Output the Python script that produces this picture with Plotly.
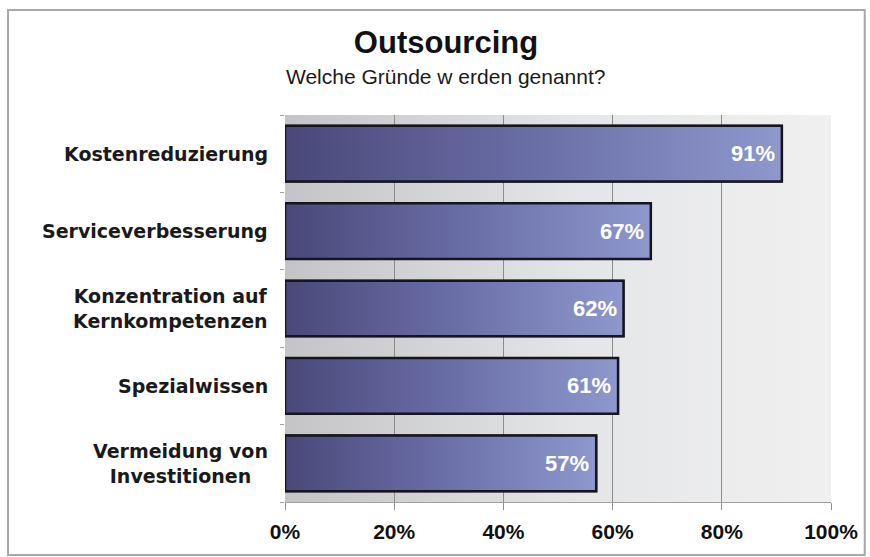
import base64
import plotly.graph_objects as go

# ---- data ----
categories = ["Kostenreduzierung", "Serviceverbesserung",
              "Konzentration auf<br>Kernkompetenzen", "Spezialwissen",
              "Vermeidung von<br>Investitionen"]
values = [91, 67, 62, 61, 57]
x_ticks = [0, 20, 40, 60, 80, 100]
x_tick_labels = ["0%", "20%", "40%", "60%", "80%", "100%"]
grid_vals = [20, 40, 60, 80]
title_text = "Outsourcing"
subtitle_text = "Welche Gründe w erden genannt?"

# ---- layout constants ----
W, H = 870, 557
ML, MR, MT, MB = 285, 35, 115, 55
BAR_W = 0.72
idx = list(range(len(categories)))

bar_scale = [[0.0, "#4a4879"], [0.5, "#6a6ea7"], [1.0, "#8e98cd"]]

pw = W - ML - MR
ph = H - MT - MB
def px_to_paper_x(px):
    return (px - ML) / pw
def px_to_paper_y(py):
    return (H - MB - py) / ph

fig = go.Figure()

# real bar trace (underneath)
fig.add_trace(go.Bar(
    x=values, y=idx, orientation="h", width=BAR_W,
    marker=dict(color="#6a6ea7", line=dict(color="#15151f", width=2)),
    hoverinfo="skip", showlegend=False,
))

# gradient overlay for each bar, built from the data values
h = BAR_W / 2
for i, v in zip(idx, values):
    fig.add_trace(go.Scatter(
        x=[0, v, v, 0, 0], y=[i - h, i - h, i + h, i + h, i - h],
        mode="lines", fill="toself",
        fillgradient=dict(type="horizontal", colorscale=bar_scale),
        line=dict(color="#15151f", width=2.5),
        hoverinfo="skip", showlegend=False,
    ))

annotations = []
# value labels inside the bar end
for i, v in zip(idx, values):
    annotations.append(dict(
        x=v, y=i, xref="x", yref="y", text=f"{v}%", showarrow=False,
        xanchor="right", yanchor="middle", xshift=-5,
        font=dict(family="Liberation Sans, Arial", size=22, color="white", weight="bold"),
    ))

# category labels (centered lines, right anchored)
for i, c in zip(idx, categories):
    annotations.append(dict(
        x=0, y=i, xref="x", yref="y", text=c, showarrow=False,
        xanchor="right", yanchor="middle", xshift=-15, align="center",
        font=dict(family="DejaVu Sans", size=19, color="#1a1a1a", weight="bold"),
    ))

# subtitle
annotations.append(dict(
    x=px_to_paper_x(447), y=px_to_paper_y(76), xref="paper", yref="paper",
    text=subtitle_text, showarrow=False, xanchor="center", yanchor="middle",
    font=dict(family="Liberation Sans, Arial", size=21, color="#1a1a1a"),
))

# background gradient image for plot area
svg = ('<svg xmlns="http://www.w3.org/2000/svg" width="200" height="100" preserveAspectRatio="none" viewBox="0 0 200 100">'
       '<defs><linearGradient id="g" x1="0" y1="0" x2="1" y2="0">'
       '<stop offset="0" stop-color="#c4c4c6"/>'
       '<stop offset="0.55" stop-color="#e5e6e8"/>'
       '<stop offset="1" stop-color="#f0f0f0"/>'
       '</linearGradient></defs>'
       '<rect x="0" y="0" width="200" height="100" fill="url(#g)"/></svg>')
svg_uri = "data:image/svg+xml;base64," + base64.b64encode(svg.encode()).decode()

fig.update_layout(
    width=W, height=H,
    margin=dict(l=ML, r=MR, t=MT, b=MB),
    paper_bgcolor="white",
    plot_bgcolor="rgba(0,0,0,0)",
    showlegend=False,
    title=dict(
        text=title_text, x=446 / W, xanchor="center", xref="container",
        y=1 - 42 / H, yanchor="middle", yref="container",
        font=dict(family="Liberation Sans, Arial", size=31, color="#111111", weight="bold"),
    ),
    annotations=annotations,
    images=[dict(
        source=svg_uri, xref="x domain", yref="y domain", x=0, y=1,
        sizex=1, sizey=1, xanchor="left", yanchor="top",
        sizing="stretch", layer="below",
    )],
    shapes=[dict(
        type="rect", xref="paper", yref="paper",
        x0=px_to_paper_x(6), x1=px_to_paper_x(869),
        y0=px_to_paper_y(555), y1=px_to_paper_y(10),
        line=dict(color="#a8a8a8", width=2), fillcolor="rgba(0,0,0,0)",
        layer="below",
    )],
    xaxis=dict(
        range=[0, 100], tickvals=x_ticks, ticktext=x_tick_labels,
        showgrid=False, zeroline=False,
        showline=True, linecolor="#a0a0a0", linewidth=1,
        ticks="outside", ticklen=7, tickcolor="#909090", tickwidth=1,
        ticklabelstandoff=4,
        tickfont=dict(family="Liberation Sans, Arial", size=21, color="#111111", weight="bold"),
        minor=dict(tickvals=grid_vals, showgrid=True, gridcolor="#8c8c8c", gridwidth=1, ticks=""),
        fixedrange=True,
    ),
    yaxis=dict(
        range=[len(categories) - 0.5, -0.5], tickvals=idx, showticklabels=False,
        showgrid=False, zeroline=False, showline=False, ticks="",
        minor=dict(tickvals=[i - 0.5 for i in range(len(categories) + 1)],
                   ticks="outside", ticklen=4, tickcolor="#a0a0a0", showgrid=False),
        fixedrange=True,
    ),
)

fig.write_html("out.html")
